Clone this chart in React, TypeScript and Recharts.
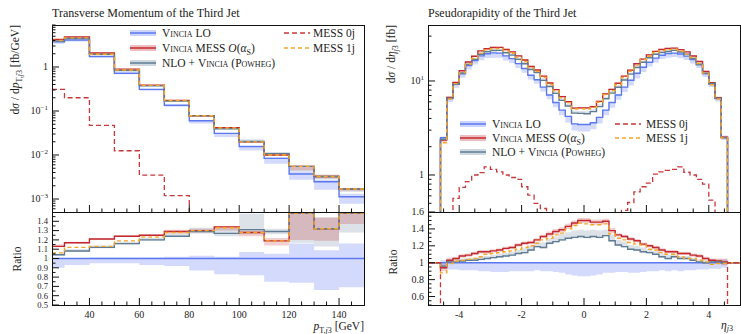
import React from "react";
import { ComposedChart, Line, Area, XAxis, YAxis } from "recharts";

const FONT = '"Liberation Serif", "DejaVu Serif", serif';

const C_LO = "#5b78ef";
const C_LO_BAND = "#cdd4fb";
const C_MESS = "#c3282e";
const C_MESS_BAND = "rgba(195,40,46,0.22)";
const C_NLO = "#5f7c94";
const C_NLO_BAND = "rgba(95,124,148,0.22)";
const C_1J = "#f5a626";
const C_0J = "#c8373a";

// ---- transverse momentum of the third jet (bins in GeV) ----
const PT_EDGES = [25, 30, 40, 50, 60, 70, 80, 90, 100, 110, 120, 130, 140, 150];
const PT_LO = [3.76, 4.1, 1.72, 0.72, 0.31, 0.135, 0.06, 0.031, 0.0155, 0.0084, 0.0037, 0.00247, 0.00113];
const PT_0J = [0.31, 0.2, 0.047, 0.0125, 0.0035, 0.00119, 0.0001, 0.0001, 0.0001, 0.0001, 0.0001, 0.0001, 0.0001];
// ratios to Vincia LO
const PT_R_MESS = [1.13, 1.17, 1.21, 1.24, 1.25, 1.29, 1.3, 1.34, 1.28, 1.19, 1.49, 1.32, 1.49];
const PT_R_1J = [1.06, 1.12, 1.13, 1.19, 1.23, 1.28, 1.3, 1.33, 1.28, 1.19, 1.49, 1.32, 1.49];
const PT_R_NLO = [1.04, 1.08, 1.12, 1.16, 1.2, 1.24, 1.29, 1.27, 1.31, 1.29, 1.49, 1.32, 1.49];
// uncertainty bands (ratio)
const PT_B_LO_DN = [0.9, 0.93, 0.95, 0.95, 0.93, 0.92, 0.87, 0.83, 0.82, 0.75, 0.74, 0.66, 0.69];
const PT_B_LO_UP = [1.0, 1.0, 1.01, 1.01, 1.01, 1.02, 1.03, 1.02, 1.07, 1.05, 1.16, 1.09, 1.16];
const PT_B_MESS_DN = [1.12, 1.16, 1.2, 1.23, 1.24, 1.27, 1.28, 1.3, 1.24, 1.14, 1.2, 1.19, 1.37];
const PT_B_MESS_UP = [1.15, 1.18, 1.22, 1.25, 1.26, 1.31, 1.32, 1.35, 1.3, 1.22, 1.5, 1.44, 1.5];
const PT_B_NLO_DN = [1.03, 1.07, 1.11, 1.15, 1.19, 1.23, 1.27, 1.24, 1.26, 1.26, 1.17, 1.13, 1.28];
const PT_B_NLO_UP = [1.05, 1.1, 1.14, 1.18, 1.22, 1.27, 1.33, 1.33, 1.48, 1.32, 1.5, 1.44, 1.5];

// ---- pseudorapidity of the third jet ----
const ETA_EDGES = [
  -4.6, -4.4, -4.2, -4.0, -3.8, -3.6, -3.4, -3.2, -3.0, -2.8, -2.6, -2.4, -2.2, -2.0, -1.8, -1.6,
  -1.4, -1.2, -1.0, -0.8, -0.6, -0.4, -0.2, 0, 0.2, 0.4, 0.6, 0.8, 1.0, 1.2, 1.4, 1.6, 1.8, 2.0,
  2.2, 2.4, 2.6, 2.8, 3.0, 3.2, 3.4, 3.6, 3.8, 4.0, 4.2, 4.4, 4.6,
];
const ETA_LO = [
  2.5, 6.5, 9.2, 11.9, 14.6, 16.5, 18.5, 19.5, 19.9, 19.8, 18.5, 17.3, 15.3, 13.6, 11.5, 10.3, 8.6, 7.1,
  5.9, 4.9, 4.2, 3.5, 3.45, 3.45, 3.6, 4.1, 4.9, 5.9, 7.1, 8.6, 10.2, 12.1, 14.0, 15.8, 17.5, 18.8, 19.6,
  19.8, 19.4, 18.4, 16.9, 14.9, 12.0, 9.3, 6.5, 2.5,
];
const ETA_0J = [
  0.1, 0.1, 0.565, 0.74, 0.85, 1.0, 1.06, 1.22, 1.15, 1.08, 1.0, 0.94, 0.9, 0.75, 0.61, 0.5, 0.44,
  0.1, 0.1, 0.1, 0.1, 0.1, 0.1, 0.1, 0.1, 0.1, 0.1, 0.1, 0.1,
  0.42, 0.51, 0.66, 0.75, 0.82, 1.02, 1.08, 1.12, 1.15, 1.22, 1.07, 1.0, 0.9, 0.8, 0.54, 0.1, 0.1,
];
const ETA_R_MESS = [
  0.94, 1.03, 1.05, 1.08, 1.09, 1.11, 1.13, 1.13, 1.14, 1.15, 1.17, 1.18, 1.21, 1.23, 1.24, 1.27, 1.31,
  1.34, 1.37, 1.39, 1.43, 1.47, 1.5, 1.5, 1.48, 1.48, 1.49, 1.38, 1.33, 1.31, 1.28, 1.26, 1.22, 1.2,
  1.18, 1.15, 1.13, 1.13, 1.11, 1.11, 1.09, 1.08, 1.05, 1.03, 1.02, 1.01,
];
const ETA_R_1J = [
  0.88, 0.99, 1.02, 1.03, 1.04, 1.05, 1.07, 1.1, 1.11, 1.12, 1.13, 1.14, 1.16, 1.18, 1.2, 1.23, 1.27,
  1.29, 1.33, 1.35, 1.4, 1.44, 1.47, 1.46, 1.45, 1.45, 1.46, 1.34, 1.29, 1.27, 1.24, 1.22, 1.21, 1.16,
  1.15, 1.12, 1.1, 1.1, 1.07, 1.05, 1.05, 1.03, 1.01, 0.98, 0.99, 0.99,
];
const ETA_R_NLO = [
  0.96, 1.01, 1.01, 1.02, 1.03, 1.03, 1.04, 1.05, 1.06, 1.07, 1.08, 1.09, 1.11, 1.12, 1.15, 1.19, 1.18,
  1.23, 1.25, 1.27, 1.29, 1.3, 1.31, 1.3, 1.31, 1.3, 1.32, 1.26, 1.21, 1.19, 1.16, 1.15, 1.13, 1.12,
  1.1, 1.07, 1.05, 1.07, 1.05, 1.05, 1.03, 1.01, 1.0, 1.01, 1.01, 1.0,
];
const ETA_B_LO_DN = [
  0.93, 0.92, 0.92, 0.91, 0.91, 0.91, 0.9, 0.9, 0.89, 0.89, 0.89, 0.9, 0.9, 0.9, 0.9, 0.91, 0.9, 0.9,
  0.89, 0.88, 0.86, 0.85, 0.84, 0.84, 0.85, 0.86, 0.88, 0.88, 0.89, 0.89, 0.88, 0.88, 0.89, 0.9, 0.9,
  0.91, 0.9, 0.91, 0.9, 0.91, 0.91, 0.92, 0.92, 0.93, 0.93, 0.94,
];
const ETA_B_LO_UP = [
  1.03, 1.02, 1.01, 1.01, 1.01, 1.01, 1.01, 1.01, 1.01, 1.01, 1.01, 1.01, 1.01, 1.01, 1.01, 1.01, 1.01,
  1.01, 1.01, 1.01, 1.01, 1.01, 1.01, 1.01, 1.01, 1.01, 1.01, 1.01, 1.01, 1.01, 1.01, 1.01, 1.01, 1.01,
  1.01, 1.01, 1.01, 1.01, 1.01, 1.01, 1.01, 1.01, 1.01, 1.01, 1.02, 1.03,
];
const ETA_E_MESS = [
  0.04, 0.03, 0.02, 0.02, 0.02, 0.02, 0.02, 0.02, 0.02, 0.02, 0.02, 0.02, 0.02, 0.02, 0.02, 0.02, 0.02,
  0.03, 0.03, 0.03, 0.03, 0.03, 0.03, 0.03, 0.03, 0.03, 0.03, 0.03, 0.02, 0.02, 0.02, 0.02, 0.02, 0.02,
  0.02, 0.02, 0.02, 0.02, 0.02, 0.02, 0.02, 0.02, 0.02, 0.02, 0.03, 0.04,
];
const ETA_E_NLO_UP = [
  0.04, 0.03, 0.03, 0.03, 0.03, 0.03, 0.03, 0.03, 0.03, 0.04, 0.04, 0.04, 0.04, 0.05, 0.05, 0.05, 0.06,
  0.06, 0.06, 0.07, 0.07, 0.08, 0.08, 0.08, 0.08, 0.08, 0.07, 0.07, 0.06, 0.06, 0.05, 0.05, 0.05, 0.04,
  0.04, 0.04, 0.04, 0.03, 0.03, 0.03, 0.03, 0.03, 0.03, 0.03, 0.03, 0.04,
];
const ETA_E_NLO_DN = [
  0.02, 0.01, 0.01, 0.01, 0.01, 0.01, 0.01, 0.01, 0.01, 0.01, 0.01, 0.01, 0.01, 0.01, 0.01, 0.01, 0.01,
  0.01, 0.01, 0.01, 0.01, 0.01, 0.01, 0.01, 0.01, 0.01, 0.01, 0.01, 0.01, 0.01, 0.01, 0.01, 0.01, 0.01,
  0.01, 0.01, 0.01, 0.01, 0.01, 0.01, 0.01, 0.01, 0.01, 0.01, 0.01, 0.02,
];

// tick values
const PT_X_MAJOR = [40, 60, 80, 100, 120, 140];
const PT_X_TICKS = [30, 35, 40, 45, 50, 55, 60, 65, 70, 75, 80, 85, 90, 95, 100, 105, 110, 115, 120, 125, 130, 135, 140, 145];
const PT_Y_MAJOR = [0.001, 0.01, 0.1, 1];
const PT_Y_TICKS = [
  0.0006, 0.0007, 0.0008, 0.0009, 0.001, 0.002, 0.003, 0.004, 0.005, 0.006, 0.007, 0.008, 0.009,
  0.01, 0.02, 0.03, 0.04, 0.05, 0.06, 0.07, 0.08, 0.09, 0.1, 0.2, 0.3, 0.4, 0.5, 0.6, 0.7, 0.8, 0.9,
  1, 2, 3, 4, 5, 6, 7, 8, 9,
];
const PT_R_MAJOR = [0.5, 0.6, 0.7, 0.8, 0.9, 1, 1.1, 1.2, 1.3, 1.4];
const PT_R_TICKS = [0.5, 0.55, 0.6, 0.65, 0.7, 0.75, 0.8, 0.85, 0.9, 0.95, 1, 1.05, 1.1, 1.15, 1.2, 1.25, 1.3, 1.35, 1.4, 1.45];
const ETA_X_MAJOR = [-4, -2, 0, 2, 4];
const ETA_X_TICKS = [-4.5, -4, -3.5, -3, -2.5, -2, -1.5, -1, -0.5, 0, 0.5, 1, 1.5, 2, 2.5, 3, 3.5, 4, 4.5];
const ETA_Y_MAJOR = [1, 10];
const ETA_Y_TICKS = [0.5, 0.6, 0.7, 0.8, 0.9, 1, 2, 3, 4, 5, 6, 7, 8, 9, 10, 20, 30];
const ETA_R_MAJOR = [0.6, 0.8, 1, 1.2, 1.4, 1.6];
const ETA_R_TICKS = [0.5, 0.55, 0.6, 0.65, 0.7, 0.75, 0.8, 0.85, 0.9, 0.95, 1, 1.05, 1.1, 1.15, 1.2, 1.25, 1.3, 1.35, 1.4, 1.45, 1.5, 1.55, 1.6];

const near = (a: number, b: number) => Math.abs(a - b) <= 1e-6 * Math.max(Math.abs(a), 1e-6);

// build step rows: one row per bin edge, last edge repeats the last bin
function ptRows(ratio: boolean) {
  return PT_EDGES.map((x, k) => {
    const i = Math.min(k, PT_LO.length - 1);
    const s = ratio ? 1 : PT_LO[i];
    return {
      x,
      lo: s,
      mess: s * PT_R_MESS[i],
      oneJ: s * PT_R_1J[i],
      nlo: s * PT_R_NLO[i],
      zeroJ: ratio ? PT_0J[i] / PT_LO[i] : PT_0J[i],
      loBand: [s * PT_B_LO_DN[i], s * PT_B_LO_UP[i]],
      messBand: [s * PT_B_MESS_DN[i], s * PT_B_MESS_UP[i]],
      nloBand: [s * PT_B_NLO_DN[i], s * PT_B_NLO_UP[i]],
    };
  });
}

function etaRows(ratio: boolean) {
  const out = ratio ? 1 : 0.001; // outside acceptance: empty (ratio shown as 1)
  const empty = (x: number) => ({
    x, lo: out, mess: out, oneJ: out, nlo: out, zeroJ: out,
    loBand: [out, out], messBand: [out, out], nloBand: [out, out],
  });
  const rows: any[] = [empty(-5)];
  ETA_LO.forEach((v, i) => {
    const s = ratio ? 1 : v;
    const rm = ETA_R_MESS[i];
    const rn = ETA_R_NLO[i];
    rows.push({
      x: ETA_EDGES[i],
      lo: s,
      mess: s * rm,
      oneJ: s * ETA_R_1J[i],
      nlo: s * rn,
      zeroJ: ratio ? ETA_0J[i] / v : ETA_0J[i],
      loBand: [s * ETA_B_LO_DN[i], s * ETA_B_LO_UP[i]],
      messBand: [s * (rm - ETA_E_MESS[i]), s * (rm + ETA_E_MESS[i])],
      nloBand: [s * (rn - ETA_E_NLO_DN[i]), s * (rn + ETA_E_NLO_UP[i])],
    });
  });
  rows.push(empty(4.6));
  rows.push(empty(5));
  return rows;
}

function xTick(majors: number[], labels: boolean) {
  return (p: any) => {
    const v = p.payload.value;
    const major = majors.some((m) => near(m, v));
    return (
      <g>
        <line x1={p.x} x2={p.x} y1={p.y} y2={p.y - (major ? 7 : 3.5)} stroke="#111" strokeWidth={1} />
        {labels && major && (
          <text x={p.x} y={p.y + 13} textAnchor="middle" fontSize={10} fontFamily={FONT} fill="#222">
            {v}
          </text>
        )}
      </g>
    );
  };
}

function yTick(majors: number[], label: (v: number) => React.ReactNode, size = 10) {
  return (p: any) => {
    const v = p.payload.value;
    const major = majors.some((m) => near(m, v));
    return (
      <g>
        <line x1={p.x} x2={p.x + (major ? 7 : 3.5)} y1={p.y} y2={p.y} stroke="#111" strokeWidth={1} />
        {major && (
          <text x={p.x - 4} y={p.y + size * 0.33} textAnchor="end" fontSize={size} fontFamily={FONT} fill="#222">
            {label(v)}
          </text>
        )}
      </g>
    );
  };
}

const pow10Label = (v: number) => {
  if (near(v, 1)) return "1";
  const e = Math.round(Math.log10(v));
  return (
    <>
      <tspan>10</tspan>
      <tspan dy={-4} fontSize={7}>{e < 0 ? `\u2212${-e}` : e}</tspan>
    </>
  );
};

function Series() {
  return [
    <Area key="b1" dataKey="loBand" type="stepAfter" stroke="none" fill={C_LO_BAND} fillOpacity={0.85} isAnimationActive={false} />,
    <Area key="b2" dataKey="nloBand" type="stepAfter" stroke="none" fill={C_NLO_BAND} fillOpacity={1} isAnimationActive={false} />,
    <Area key="b3" dataKey="messBand" type="stepAfter" stroke="none" fill={C_MESS_BAND} fillOpacity={1} isAnimationActive={false} />,
    <Line key="l1" dataKey="lo" type="stepAfter" stroke={C_LO} strokeWidth={1.4} dot={false} isAnimationActive={false} />,
    <Line key="l2" dataKey="mess" type="stepAfter" stroke={C_MESS} strokeWidth={1.4} dot={false} isAnimationActive={false} />,
    <Line key="l3" dataKey="nlo" type="stepAfter" stroke={C_NLO} strokeWidth={1.4} dot={false} isAnimationActive={false} />,
    <Line key="l4" dataKey="oneJ" type="stepAfter" stroke={C_1J} strokeWidth={1.4} strokeDasharray="4 3" dot={false} isAnimationActive={false} />,
    <Line key="l5" dataKey="zeroJ" type="stepAfter" stroke={C_0J} strokeWidth={1.3} strokeDasharray="5 3" dot={false} isAnimationActive={false} />,
  ];
}

function Swatch({ x, y, color, band, dash }: { x: number; y: number; color: string; band?: string; dash?: string }) {
  return (
    <svg width={26} height={10} style={{ position: "absolute", left: x, top: y - 5 }}>
      {band && <rect x={0} y={2} width={26} height={6} fill={band} />}
      <line x1={0} x2={26} y1={5} y2={5} stroke={color} strokeWidth={1.5} strokeDasharray={dash} />
    </svg>
  );
}

const sc: React.CSSProperties = { fontVariant: "small-caps" };

function Legend({ x1, x2, y0, dy, sw2 }: { x1: number; x2: number; y0: number; dy: number; sw2: number }) {
  const txt = (x: number, y: number, node: React.ReactNode) => (
    <div style={{ position: "absolute", left: x, top: y - 8, fontSize: 11.5, lineHeight: "16px", whiteSpace: "nowrap", color: "#222" }}>
      {node}
    </div>
  );
  return (
    <>
      <Swatch x={x1} y={y0} color={C_LO} band={C_LO_BAND} />
      {txt(x1 + 32, y0, <><span style={sc}>Vincia</span> LO</>)}
      <Swatch x={x1} y={y0 + dy} color={C_MESS} band="rgba(195,40,46,0.3)" />
      {txt(x1 + 32, y0 + dy, <><span style={sc}>Vincia</span> MESS <i>O</i>(<i>α</i><sub style={{ fontSize: 8 }}>S</sub>)</>)}
      <Swatch x={x1} y={y0 + 2 * dy} color={C_NLO} band="rgba(95,124,148,0.3)" />
      {txt(x1 + 32, y0 + 2 * dy, <>NLO + <span style={sc}>Vincia</span> (<span style={sc}>Powheg</span>)</>)}
      <Swatch x={sw2} y={y0} color={C_0J} dash="5 3" />
      {txt(x2, y0, <>MESS 0j</>)}
      <Swatch x={sw2} y={y0 + dy} color={C_1J} dash="4 3" />
      {txt(x2, y0 + dy, <>MESS 1j</>)}
    </>
  );
}

const frame = (left: number, top: number, w: number, h: number): React.CSSProperties => ({
  position: "absolute", left, top, width: w, height: h, boxSizing: "border-box", border: "1px solid #111", pointerEvents: "none",
});

export default function App() {
  const ptMain = ptRows(false);
  const ptRatio = ptRows(true);
  const etaMain = etaRows(false);
  const etaRatio = etaRows(true);
  const axisCommon = { axisLine: false, tickLine: false, tickSize: 0, tickMargin: 0, interval: 0 as const, allowDataOverflow: true, type: "number" as const };

  return (
    <div style={{ position: "absolute", left: 0, top: 0, width: 741, height: 334, background: "#fff", fontFamily: FONT, overflow: "hidden" }}>
      {/* left: pT main */}
      <div style={{ position: "absolute", left: 0, top: 0 }}>
        <ComposedChart width={370} height={213} data={ptMain} margin={{ top: 25, right: 6, bottom: 0, left: 0 }}>
          <XAxis dataKey="x" {...axisCommon} domain={[25, 150]} ticks={PT_X_TICKS} height={1} tick={xTick(PT_X_MAJOR, false)} />
          <YAxis {...axisCommon} scale="log" domain={[5.07e-4, 9]} ticks={PT_Y_TICKS} width={52} tick={yTick(PT_Y_MAJOR, pow10Label)} />
          {Series()}
        </ComposedChart>
      </div>
      {/* left: pT ratio */}
      <div style={{ position: "absolute", left: 0, top: 202 }}>
        <ComposedChart width={370} height={132} data={ptRatio} margin={{ top: 10, right: 6, bottom: 0, left: 0 }}>
          <XAxis dataKey="x" {...axisCommon} domain={[25, 150]} ticks={PT_X_TICKS} height={29} tick={xTick(PT_X_MAJOR, true)} />
          <YAxis {...axisCommon} domain={[0.5, 1.5]} ticks={PT_R_TICKS} width={52} tick={yTick(PT_R_MAJOR, (v) => String(v), 8.6)} />
          {Series()}
        </ComposedChart>
      </div>
      {/* right: eta main */}
      <div style={{ position: "absolute", left: 376, top: 0 }}>
        <ComposedChart width={365} height={213} data={etaMain} margin={{ top: 25, right: 1, bottom: 0, left: 0 }}>
          <XAxis dataKey="x" {...axisCommon} domain={[-5, 5]} ticks={ETA_X_TICKS} height={1} tick={xTick(ETA_X_MAJOR, false)} />
          <YAxis {...axisCommon} scale="log" domain={[0.404, 39.4]} ticks={ETA_Y_TICKS} width={52} tick={yTick(ETA_Y_MAJOR, (v) => (near(v, 1) ? "1" : pow10Label(v)))} />
          {Series()}
        </ComposedChart>
      </div>
      {/* right: eta ratio */}
      <div style={{ position: "absolute", left: 376, top: 202 }}>
        <ComposedChart width={365} height={132} data={etaRatio} margin={{ top: 10, right: 1, bottom: 0, left: 0 }}>
          <XAxis dataKey="x" {...axisCommon} domain={[-5, 5]} ticks={ETA_X_TICKS} height={29} tick={xTick(ETA_X_MAJOR, true)} />
          <YAxis {...axisCommon} domain={[0.5, 1.6]} ticks={ETA_R_TICKS} width={52} tick={yTick(ETA_R_MAJOR, (v) => String(v))} />
          {Series()}
        </ComposedChart>
      </div>

      <div style={frame(52, 25, 313, 188)} />
      <div style={frame(52, 212, 313, 94)} />
      <div style={frame(428, 25, 313, 188)} />
      <div style={frame(428, 212, 313, 94)} />

      <Legend x1={130} x2={313} y0={33} dy={15} sw2={284} />
      <Legend x1={460} x2={646} y0={124} dy={14} sw2={615} />

      <svg width={741} height={334} style={{ position: "absolute", left: 0, top: 0, pointerEvents: "none" }} fontFamily={FONT} fill="#222">
        <text x={52} y={17} fontSize={12}>Transverse Momentum of the Third Jet</text>
        <text x={428} y={17} fontSize={12}>Pseudorapidity of the Third Jet</text>
        <text transform="translate(19,25) rotate(-90)" textAnchor="end" fontSize={11.5}>
          d<tspan fontStyle="italic">σ</tspan> / d<tspan fontStyle="italic">p</tspan>
          <tspan dy={3} fontSize={8}>T,<tspan fontStyle="italic">j</tspan>3</tspan>
          <tspan dy={-3}> [fb/GeV]</tspan>
        </text>
        <text transform="translate(395,25) rotate(-90)" textAnchor="end" fontSize={11.5}>
          d<tspan fontStyle="italic">σ</tspan> / d<tspan fontStyle="italic">η</tspan>
          <tspan dy={3} fontSize={8}><tspan fontStyle="italic">j</tspan>3</tspan>
          <tspan dy={-3}> [fb]</tspan>
        </text>
        <text transform="translate(21,259) rotate(-90)" textAnchor="middle" fontSize={11.5}>Ratio</text>
        <text transform="translate(397,262) rotate(-90)" textAnchor="middle" fontSize={11.5}>Ratio</text>
        <text x={364} y={330} textAnchor="end" fontSize={11.5}>
          <tspan fontStyle="italic">p</tspan>
          <tspan dy={3} fontSize={8}>T,<tspan fontStyle="italic">j</tspan>3</tspan>
          <tspan dy={-3}> [GeV]</tspan>
        </text>
        <text x={733} y={329} textAnchor="end" fontSize={11.5}>
          <tspan fontStyle="italic">η</tspan>
          <tspan dy={2} fontSize={8}><tspan fontStyle="italic">j</tspan>3</tspan>
        </text>
      </svg>
    </div>
  );
}
